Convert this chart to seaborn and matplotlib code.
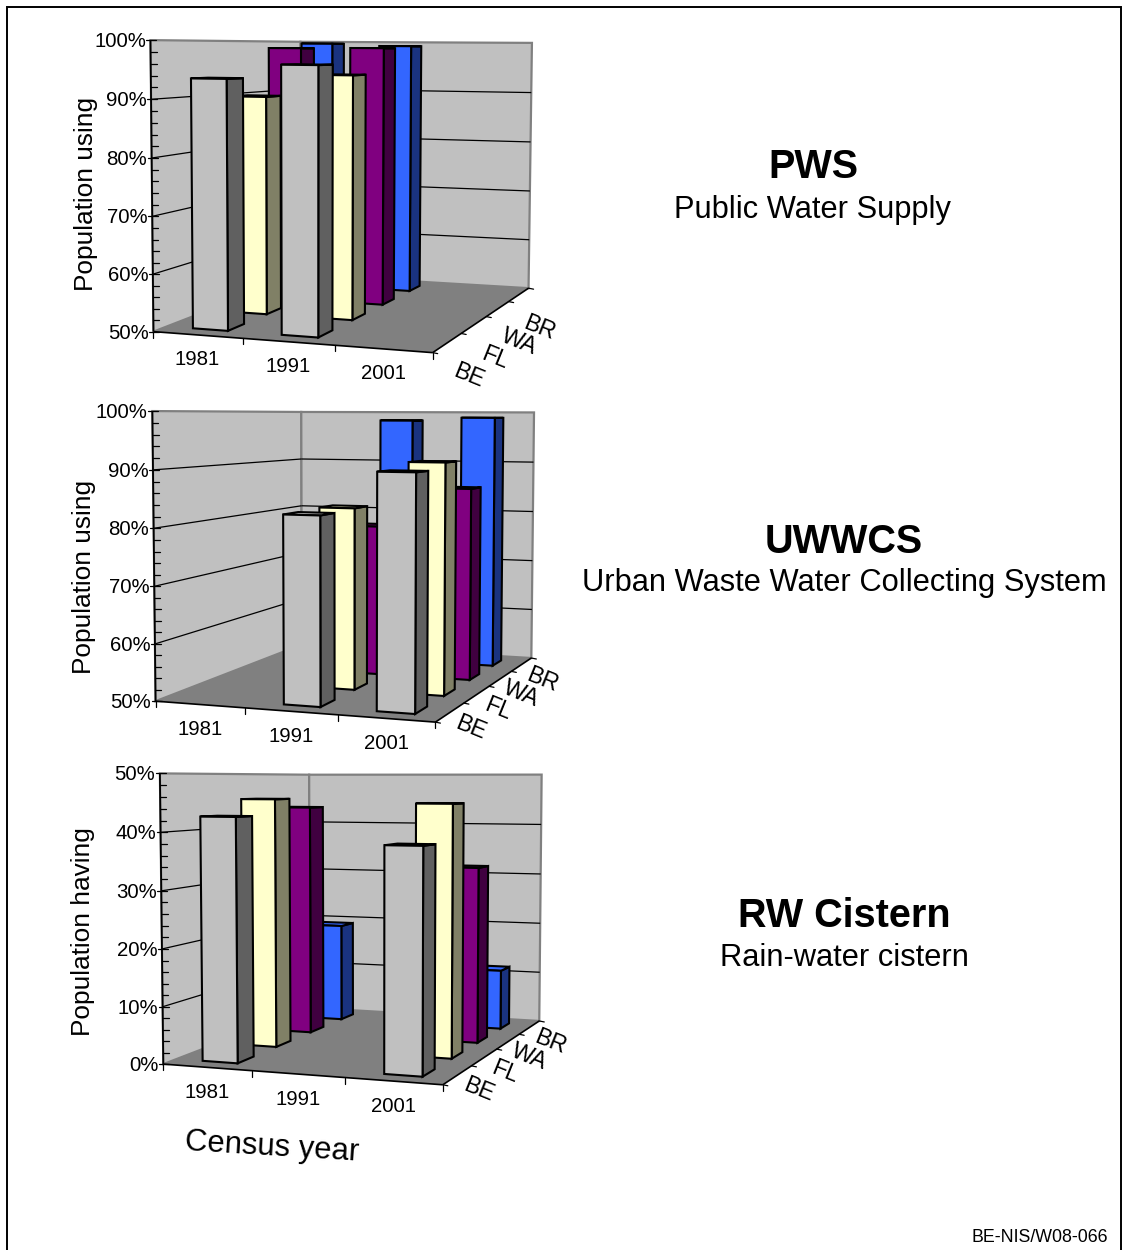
import numpy as np
import matplotlib
matplotlib.use("Agg")
import matplotlib.pyplot as plt
from matplotlib.patches import Polygon
import seaborn as sns

years = ["1981", "1991", "2001"]
regions = ["BE", "FL", "WA", "BR"]

# Percentages per region, one entry per census year; nan where no census figure exists
pws_be = [93.5, 96.0, np.nan]
pws_fl = [89.9, 94.0, np.nan]
pws_wa = [98.7, 98.8, np.nan]
pws_br = [99.6, 99.2, np.nan]

uwwcs_be = [np.nan, 82.6, 90.1]
uwwcs_fl = [np.nan, 82.8, 91.2]
uwwcs_wa = [np.nan, 78.3, 85.8]
uwwcs_br = [np.nan, 98.3, 98.9]

rw_be = [42.6, np.nan, 38.2]
rw_fl = [45.4, np.nan, 44.8]
rw_wa = [43.6, np.nan, 32.7]
rw_br = [19.2, np.nan, 11.5]

front_colors = ["#C0C0C0", "#FFFFCC", "#800080", "#3366FF"]
side_colors = ["#606060", "#808066", "#400040", "#1A3380"]

# Wall and floor corners of each box on the page, as (col, row, level) -> pixel
panels = [
    dict(series=[pws_be, pws_fl, pws_wa, pws_br], lo=50, hi=100, ylabel="Population using",
         ylabel_xy=(86, 194), region_shift=18, corners=[(153.3, 331), (150, 40.7), (433.3, 352.7), (528.3, 288.3),
                                       (531.7, 42.7), (300.5, 275), (301, 41.5)],
         title="PWS", sub="Public Water Supply", title_xy=(813, 167), sub_xy=(813, 210)),
    dict(series=[uwwcs_be, uwwcs_fl, uwwcs_wa, uwwcs_br], lo=50, hi=100, ylabel="Population using",
         ylabel_xy=(84, 577), region_shift=0, corners=[(156, 701), (152.3, 410.7), (435, 722.7), (531.7, 657.3),
                                       (534, 412.7), (301.5, 645), (301.3, 412)],
         title="UWWCS", sub="Urban Waste Water Collecting System", title_xy=(844, 542), sub_xy=(844, 583)),
    dict(series=[rw_be, rw_fl, rw_wa, rw_br], lo=0, hi=50, ylabel="Population having",
         ylabel_xy=(83, 932), region_shift=0, corners=[(163.3, 1064), (160, 773.3), (442.7, 1085), (539.3, 1020.7),
                                       (541.7, 774.7), (310, 1008), (309, 774.7)],
         title="RW Cistern", sub="Rain-water cistern", title_xy=(844, 916), sub_xy=(844, 958)),
]

BOX_POINTS = [(0, 0, 0), (0, 0, 1), (3, 0, 0), (3, 4, 0), (3, 4, 1), (0, 4, 0), (0, 4, 1)]
BAR_U = (0.30, 0.70)
BAR_V = (0.30, 0.70)

sns.set_theme(style="white")
plt.rcParams["font.family"] = ["Liberation Sans", "DejaVu Sans"]
palette = sns.color_palette(front_colors)
side_palette = sns.color_palette(side_colors)

fig = plt.figure(figsize=(11.22, 12.5), dpi=100, facecolor="white")
ax = fig.add_axes([0, 0, 1, 1])
ax.set_xlim(0, 1122)
ax.set_ylim(1250, 0)
ax.axis("off")


def px(size):
    return size * 0.72


def fit_projection(corners):
    rows, rhs = [], []
    for (X, Y, Z), (x, y) in zip(BOX_POINTS, corners):
        rows.append([X, Y, Z, 1, 0, 0, 0, 0, -x * X, -x * Y, -x * Z])
        rhs.append(x)
        rows.append([0, 0, 0, 0, X, Y, Z, 1, -y * X, -y * Y, -y * Z])
        rhs.append(y)
    p = np.linalg.lstsq(np.array(rows, float), np.array(rhs, float), rcond=None)[0]
    return np.append(p, 1.0).reshape(3, 4)


def draw_panel(cfg):
    P = fit_projection(cfg["corners"])
    lo, hi = cfg["lo"], cfg["hi"]

    def proj(u, v, w):
        h = P @ np.array([u, v, w, 1.0])
        return h[0] / h[2], h[1] / h[2]

    def level(value):
        return (value - lo) / (hi - lo)

    def poly(points, face, edge="black", lw=1.5, z=2):
        ax.add_patch(Polygon([proj(*q) for q in points], closed=True, facecolor=face,
                             edgecolor=edge, linewidth=lw, joinstyle="miter", zorder=z))

    def seg(a, b, color="black", lw=0.9, z=2):
        ax.plot(*zip(a, b), color=color, lw=lw, solid_capstyle="butt", zorder=z)

    # Walls and floor
    poly([(0, 0, 0), (0, 4, 0), (0, 4, 1), (0, 0, 1)], "#C0C0C0", "#808080", 1.6, 1)
    poly([(0, 4, 0), (3, 4, 0), (3, 4, 1), (0, 4, 1)], "#C0C0C0", "#808080", 1.6, 1)
    poly([(0, 0, 0), (3, 0, 0), (3, 4, 0), (0, 4, 0)], "#808080", "none", 0, 1.2)

    # Gridlines across both walls
    for g in np.arange(lo + 10, hi, 10):
        w = level(g)
        seg(proj(0, 0, w), proj(0, 4, w), z=1.5)
        seg(proj(0, 4, w), proj(3, 4, w), z=1.5)

    # Value axis with major and minor ticks
    seg(proj(0, 0, 0), proj(0, 0, 1), lw=1.3, z=1.6)
    for g in np.arange(lo, hi + 1, 2):
        w = level(g)
        x, y = proj(0, 0, w)
        major = (g - lo) % 10 == 0
        ax.plot([x - 4 if major else x, x + 6], [y, y], color="black", lw=0.9, zorder=1.6)
        if major:
            ax.text(x - 4.5, y + 1.5, f"{g}%", ha="right", va="center", fontsize=px(20.4), color="black", zorder=5)

    # Floor edges and their ticks
    seg(proj(0, 0, 0), proj(3, 0, 0), lw=1.2, z=1.7)
    seg(proj(3, 0, 0), proj(3, 4, 0), lw=1.2, z=1.7)
    for i in range(4):
        x, y = proj(i, 0, 0)
        ax.plot([x, x], [y, y + 6], color="black", lw=0.9, zorder=1.7)
    for j in range(5):
        x, y = proj(3, j, 0)
        ax.plot([x, x + 5], [y, y + 1], color="black", lw=0.9, zorder=1.7)

    # Category and region labels
    for i, year in enumerate(years):
        x, y = proj(i + 0.5, 0, 0)
        ax.text(x, y + 25, year, ha="center", va="center", fontsize=px(20.4), color="black", zorder=5)
    for j, name in enumerate(regions):
        x, y = proj(3, j + 0.5, 0)
        ax.text(x + 21, y + 15 + cfg["region_shift"], name, ha="center", va="center", rotation=-22,
                fontsize=px(23), color="black", zorder=5)

    # Bars, back row first and left to right within each row
    for j in reversed(range(len(regions))):
        values = cfg["series"][j]
        v0, v1 = j + BAR_V[0], j + BAR_V[1]
        for i in range(len(years)):
            val = values[i]
            if np.isnan(val):
                continue
            u0, u1 = i + BAR_U[0], i + BAR_U[1]
            w = level(val)
            poly([(u1, v0, 0), (u1, v1, 0), (u1, v1, w), (u1, v0, w)], side_palette[j])
            poly([(u0, v0, w), (u1, v0, w), (u1, v1, w), (u0, v1, w)], palette[j])
            poly([(u0, v0, 0), (u1, v0, 0), (u1, v0, w), (u0, v0, w)], palette[j])

    ax.text(*cfg["ylabel_xy"], cfg["ylabel"], rotation=90, ha="center", va="center", fontsize=px(26.2),
            color="black", zorder=5)
    ax.text(*cfg["title_xy"], cfg["title"], ha="center", va="center", fontsize=px(39.6), fontweight="bold",
            color="black")
    ax.text(*cfg["sub_xy"], cfg["sub"], ha="center", va="center", fontsize=px(30.9), color="black")


for cfg in panels:
    draw_panel(cfg)

ax.text(272, 1147, "Census year", rotation=-3.5, ha="center", va="center", fontsize=px(31), color="black")
ax.text(1108, 1237, "BE-NIS/W08-066", ha="right", va="center", fontsize=px(17.8), color="black")

# Page frame, open at the bottom
ax.plot([7, 7, 1121, 1121], [1250, 7, 7, 1250], color="black", lw=1.4, solid_joinstyle="miter", zorder=6)

fig.savefig("out.png", dpi=100, facecolor="white")
